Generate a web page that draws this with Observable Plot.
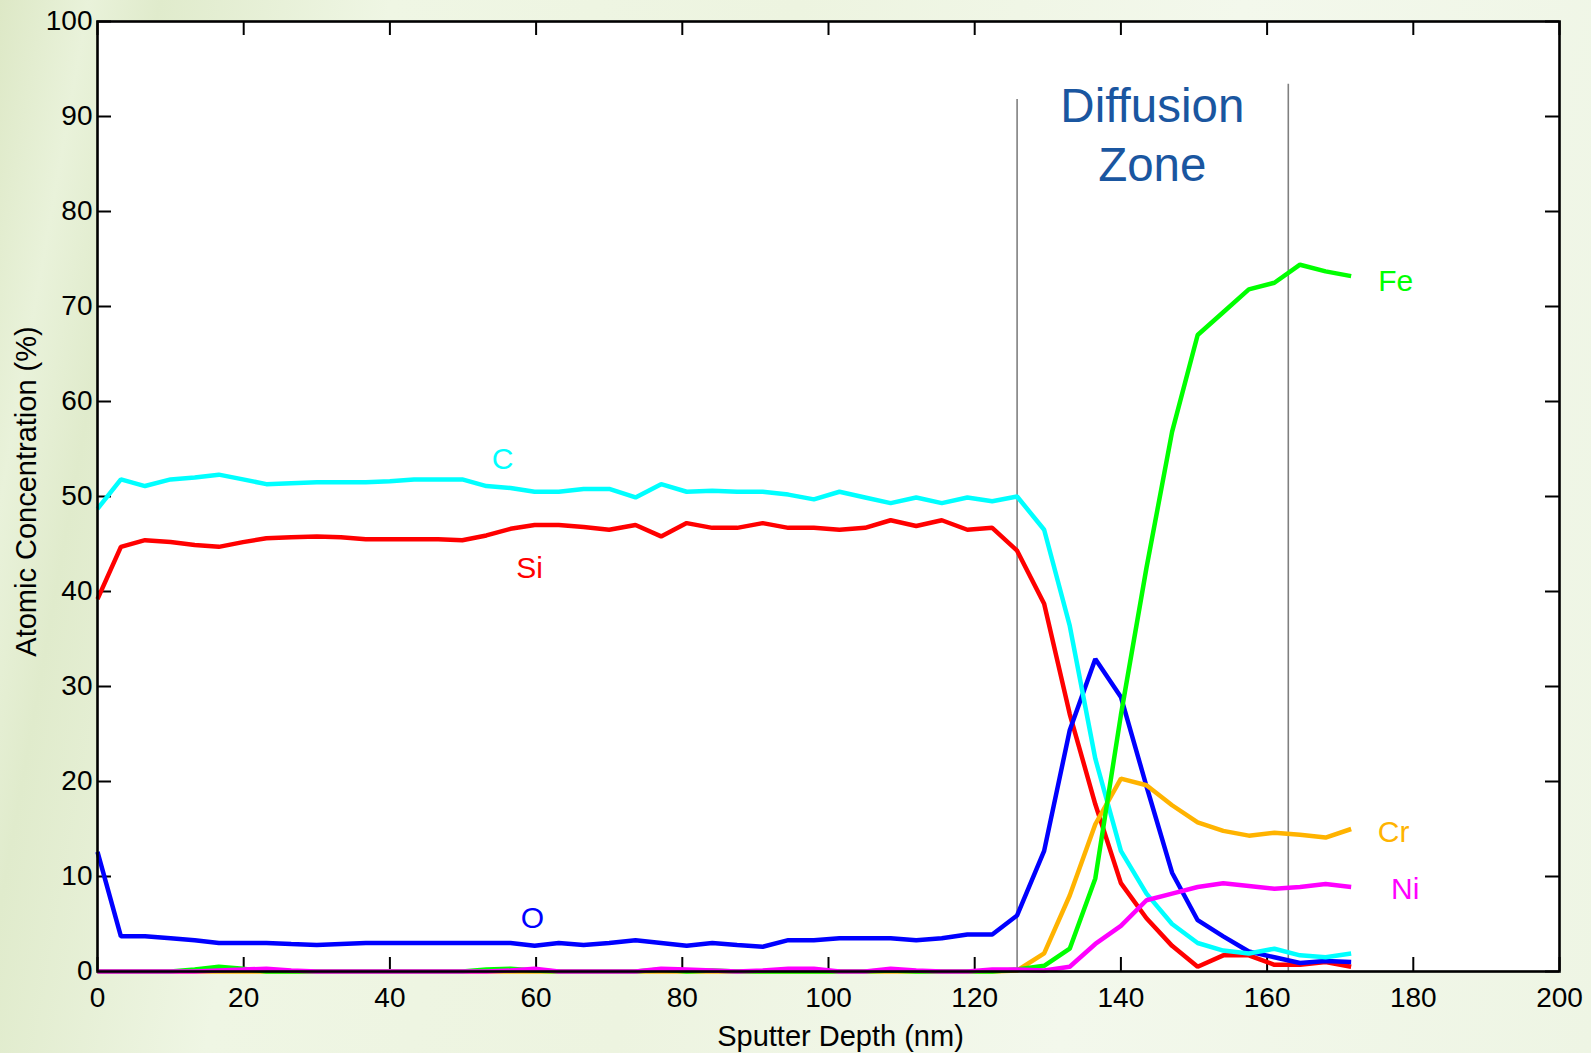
<!DOCTYPE html>
<html>
<head>
<meta charset="utf-8">
<script src="https://cdn.jsdelivr.net/npm/d3@7"></script>
<script src="https://cdn.jsdelivr.net/npm/@observablehq/plot@0.6"></script>
<style>
  html, body { margin: 0; padding: 0; }
  body {
    width: 1591px; height: 1053px; overflow: hidden;
    background: linear-gradient(100deg, #dde8c6 0%, #e9f2da 5%, #e0ebcc 9%, #eff6e4 22%, #edf4e0 45%, #f3f8ec 70%, #eef5e4 100%);
    font-family: "Liberation Sans", Arial, sans-serif;
  }
  #chart { position: absolute; left: 0; top: 0; }
</style>
</head>
<body>
<div id="chart"></div>
<script>
// Sputter depth (nm) of each measurement
const depth = [0, 3.2, 6.5, 10.0, 13.3, 16.6, 19.9, 23.1, 26.5, 30.0, 33.3, 36.7, 40.0, 43.3, 46.6, 49.9, 53.2, 56.5, 59.8, 63.1, 66.5,
  70.0, 73.6, 77.1, 80.6, 84.1, 87.5, 91.0, 94.5, 98.0, 101.5, 105.0, 108.5, 112.0, 115.5, 119.0, 122.4, 125.8,
  129.5, 133.0, 136.5, 140.0, 143.5, 147.0, 150.5, 154.0, 157.5, 161.0, 164.5, 168.0, 171.5];

// Atomic concentration (%) per element
const C  = [48.7, 51.8, 51.1, 51.8, 52.0, 52.3, 51.8, 51.3, 51.4, 51.5, 51.5, 51.5, 51.6, 51.8, 51.8, 51.8, 51.1, 50.9, 50.5, 50.5, 50.8,
  50.8, 49.9, 51.3, 50.5, 50.6, 50.5, 50.5, 50.2, 49.7, 50.5, 49.9, 49.3, 49.9, 49.3, 49.9, 49.5, 50.0,
  46.5, 36.4, 22.4, 12.7, 8.2, 5.0, 3.0, 2.2, 1.9, 2.4, 1.7, 1.5, 1.9];
const Si = [39.2, 44.7, 45.4, 45.2, 44.9, 44.7, 45.2, 45.6, 45.7, 45.8, 45.7, 45.5, 45.5, 45.5, 45.5, 45.4, 45.9, 46.6, 47.0, 47.0, 46.8,
  46.5, 47.0, 45.8, 47.2, 46.7, 46.7, 47.2, 46.7, 46.7, 46.5, 46.7, 47.5, 46.9, 47.5, 46.5, 46.7, 44.3,
  38.7, 27.1, 17.6, 9.3, 5.6, 2.7, 0.5, 1.7, 1.7, 0.7, 0.7, 1.0, 0.5];
const O  = [12.6, 3.7, 3.7, 3.5, 3.3, 3.0, 3.0, 3.0, 2.9, 2.8, 2.9, 3.0, 3.0, 3.0, 3.0, 3.0, 3.0, 3.0, 2.7, 3.0, 2.8,
  3.0, 3.3, 3.0, 2.7, 3.0, 2.8, 2.6, 3.3, 3.3, 3.5, 3.5, 3.5, 3.3, 3.5, 3.9, 3.9, 5.9,
  12.7, 25.4, 32.9, 28.9, 19.5, 10.4, 5.4, 3.7, 2.1, 1.5, 0.9, 1.1, 1.0];
const Fe = [0, 0, 0, 0, 0.2, 0.5, 0.3, 0, 0, 0, 0, 0, 0, 0, 0, 0, 0.2, 0.3, 0.1, 0, 0,
  0, 0, 0.2, 0, 0.1, 0, 0, 0, 0, 0, 0, 0.1, 0, 0, 0, 0, 0.2,
  0.6, 2.4, 9.8, 27.0, 42.5, 56.8, 67.0, 69.4, 71.8, 72.5, 74.4, 73.7, 73.2];
const Cr = [0, 0, 0, 0, 0, 0, 0, 0, 0, 0, 0, 0, 0, 0, 0, 0, 0, 0, 0, 0, 0,
  0, 0, 0, 0, 0, 0, 0, 0, 0, 0, 0, 0, 0, 0, 0, 0, 0.1,
  1.9, 8.0, 15.5, 20.3, 19.6, 17.5, 15.7, 14.8, 14.3, 14.6, 14.4, 14.1, 15.0];
const Ni = [0, 0, 0, 0, 0, 0.1, 0.2, 0.3, 0.1, 0, 0, 0, 0, 0, 0, 0, 0, 0.1, 0.3, 0, 0,
  0, 0, 0.3, 0.2, 0.1, 0, 0.1, 0.3, 0.3, 0, 0, 0.3, 0.1, 0, 0, 0.2, 0.2,
  0.1, 0.5, 2.9, 4.8, 7.5, 8.2, 8.9, 9.3, 9.0, 8.7, 8.9, 9.2, 8.9];

const elements = ["Si", "O", "C", "Cr", "Fe", "Ni"];
const colors   = ["#ff0000", "#0000ff", "#00ffff", "#ffb300", "#00ff00", "#ff00ff"];
const valuesByElement = {C, Si, O, Fe, Cr, Ni};

// Series labels (element, depth, concentration)
const labelNames = ["C", "Si", "O", "Fe", "Cr", "Ni"];
const labelDepth = [55.4, 59.1, 59.5, 177.6, 177.3, 178.9];
const labelConc  = [53.9, 42.4, 5.6, 72.6, 14.6, 8.6];

// Diffusion zone boundaries
const zoneDepth = [125.8, 162.9];
const zoneTop   = [91.8, 93.4];
const zoneText  = "Diffusion\nZone";
const zoneTextDepth = 144.3;
const zoneTextConc  = 88.3;

const xTicks = [0, 20, 40, 60, 80, 100, 120, 140, 160, 180, 200];
const yTicks = [0, 10, 20, 30, 40, 50, 60, 70, 80, 90, 100];
const xTitle = "Sputter Depth (nm)";
const yTitle = "Atomic Concentration (%)";

const rows = elements.flatMap(el => depth.map((d, i) => ({depth: d, conc: valuesByElement[el][i], element: el})));
const labels = labelNames.map((n, i) => ({element: n, depth: labelDepth[i], conc: labelConc[i]}));
const zones = zoneDepth.map((d, i) => ({depth: d, top: zoneTop[i]}));

const W = 1591, H = 1053, mL = 97, mR = 32, mT = 21, mB = 82;
const plotW = W - mL - mR, plotH = H - mT - mB;
const tickLen = 14;

const chart = Plot.plot({
  width: W, height: H,
  marginLeft: mL, marginRight: mR, marginTop: mT, marginBottom: mB,
  style: {background: "transparent", color: "black", fontFamily: "'Liberation Sans', Arial, sans-serif", overflow: "visible"},
  x: {domain: [0, 200]},
  y: {domain: [0, 100]},
  color: {domain: elements, range: colors},
  marks: [
    Plot.frame({fill: "white", stroke: "none"}),
    Plot.ruleX(zones, {x: "depth", y1: 0, y2: "top", stroke: "#808080", strokeWidth: 1.6}),
    Plot.ruleX(xTicks, {x: d => d, insetTop: plotH - tickLen, stroke: "black", strokeWidth: 2}),
    Plot.ruleX(xTicks, {x: d => d, insetBottom: plotH - tickLen, stroke: "black", strokeWidth: 2}),
    Plot.ruleY(yTicks, {y: d => d, insetRight: plotW - tickLen, stroke: "black", strokeWidth: 2}),
    Plot.ruleY(yTicks, {y: d => d, insetLeft: plotW - tickLen, stroke: "black", strokeWidth: 2}),
    Plot.line(rows, {x: "depth", y: "conc", z: "element", stroke: "element", strokeWidth: 4.5, strokeLinejoin: "miter", strokeLinecap: "butt"}),
    Plot.text(labels, {x: "depth", y: "conc", text: "element", fill: "element", fontSize: 30, textAnchor: "middle", lineAnchor: "middle"}),
    Plot.text([zoneText], {x: () => zoneTextDepth, y: () => zoneTextConc, text: d => d, fill: "#1a56a0", fontSize: 47.5, lineHeight: 1.24, textAnchor: "middle", lineAnchor: "middle"}),
    Plot.axisX({ticks: xTicks, tickSize: 0, tickPadding: 16, fontSize: 28, label: null}),
    Plot.axisY({ticks: yTicks, tickSize: 0, tickPadding: 5, fontSize: 28, label: null}),
    Plot.text([xTitle], {text: d => d, frameAnchor: "bottom", textAnchor: "middle", lineAnchor: "bottom", fontSize: 29, dx: 12, dy: 74}),
    Plot.text([yTitle], {text: d => d, frameAnchor: "left", textAnchor: "middle", lineAnchor: "top", rotate: -90, fontSize: 29, dx: -82, dy: -5}),
    Plot.frame({stroke: "black", strokeWidth: 2.6})
  ]
});
document.getElementById("chart").appendChild(chart);
</script>
</body>
</html>
